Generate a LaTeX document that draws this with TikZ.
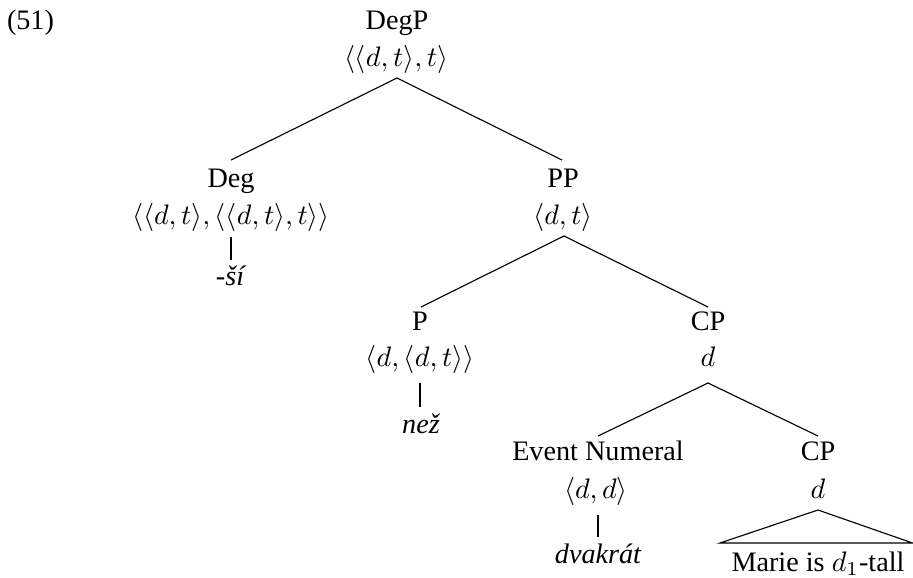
\documentclass[tikz,border=0pt]{standalone}
\usepackage{fontspec}
\setmainfont{Liberation Serif}
\begin{document}
\begin{tikzpicture}[x=0.3546pt,y=-0.3546pt,
  lbl/.style={anchor=base,inner sep=0pt,outer sep=0pt},
  leaf/.style={anchor=base,inner sep=0pt,outer sep=0pt,font=\itshape},
  branch/.style={line width=0.4pt}]
\useasboundingbox (0,0) rectangle (913,577);
% example number
\node[lbl,anchor=base west] (ex) at (7,29) {(51)};
% DegP
\node[lbl] (degp) at (397,29) {DegP};
\node[lbl] (degpT) at (396,66) {$\langle\langle d,t\rangle,t\rangle$};
\coordinate (degpB) at (397,78);
% Deg
\coordinate (degN) at (231,160);
\node[lbl] (deg) at (231,187) {Deg};
\node[lbl] (degT) at (231,224) {$\langle\langle d,t\rangle,\langle\langle d,t\rangle,t\rangle\rangle$};
\coordinate (degB) at (231,237);
\coordinate (siN) at (231,260);
\node[leaf] (si) at (230,285) {-ší};
% PP
\coordinate (ppN) at (562,160);
\node[lbl] (pp) at (563,187) {PP};
\node[lbl] (ppT) at (563,224) {$\langle d,t\rangle$};
\coordinate (ppB) at (564,236);
% P
\coordinate (pN) at (421,307);
\node[lbl] (p) at (420,330) {P};
\node[lbl] (pT) at (420,366) {$\langle d,\langle d,t\rangle\rangle$};
\coordinate (pB) at (420,383);
\coordinate (nezN) at (420,407);
\node[leaf] (nez) at (421,433) {než};
% CP
\coordinate (cpN) at (708,307);
\node[lbl] (cp) at (708,330) {CP};
\node[lbl] (cpT) at (708,366) {$d$};
\coordinate (cpB) at (708,383);
% Event Numeral
\coordinate (enN) at (598,436);
\node[lbl] (en) at (598,460) {Event Numeral};
\node[lbl] (enT) at (596,498) {$\langle d,d\rangle$};
\coordinate (enB) at (598,515);
\coordinate (dvN) at (598,537);
\node[leaf] (dv) at (598,563) {dvakrát};
% CP (lower)
\coordinate (cpbN) at (818,436);
\node[lbl] (cpb) at (818,460) {CP};
\node[lbl] (cpbT) at (818,498) {$d$};
\coordinate (cpbB) at (818,510);
\coordinate (triL) at (720,543);
\coordinate (triR) at (912.5,543);
\node[lbl] (marie) at (818,571) {Marie is $d_1$-tall};
% branches
\draw[branch] (degN) -- (degpB) -- (ppN);
\draw[branch] (degB) -- (siN);
\draw[branch] (pN) -- (ppB) -- (cpN);
\draw[branch] (pB) -- (nezN);
\draw[branch] (enN) -- (cpB) -- (cpbN);
\draw[branch] (enB) -- (dvN);
\draw[branch] (cpbB) -- (triL) -- (triR) -- cycle;
\end{tikzpicture}
\end{document}
